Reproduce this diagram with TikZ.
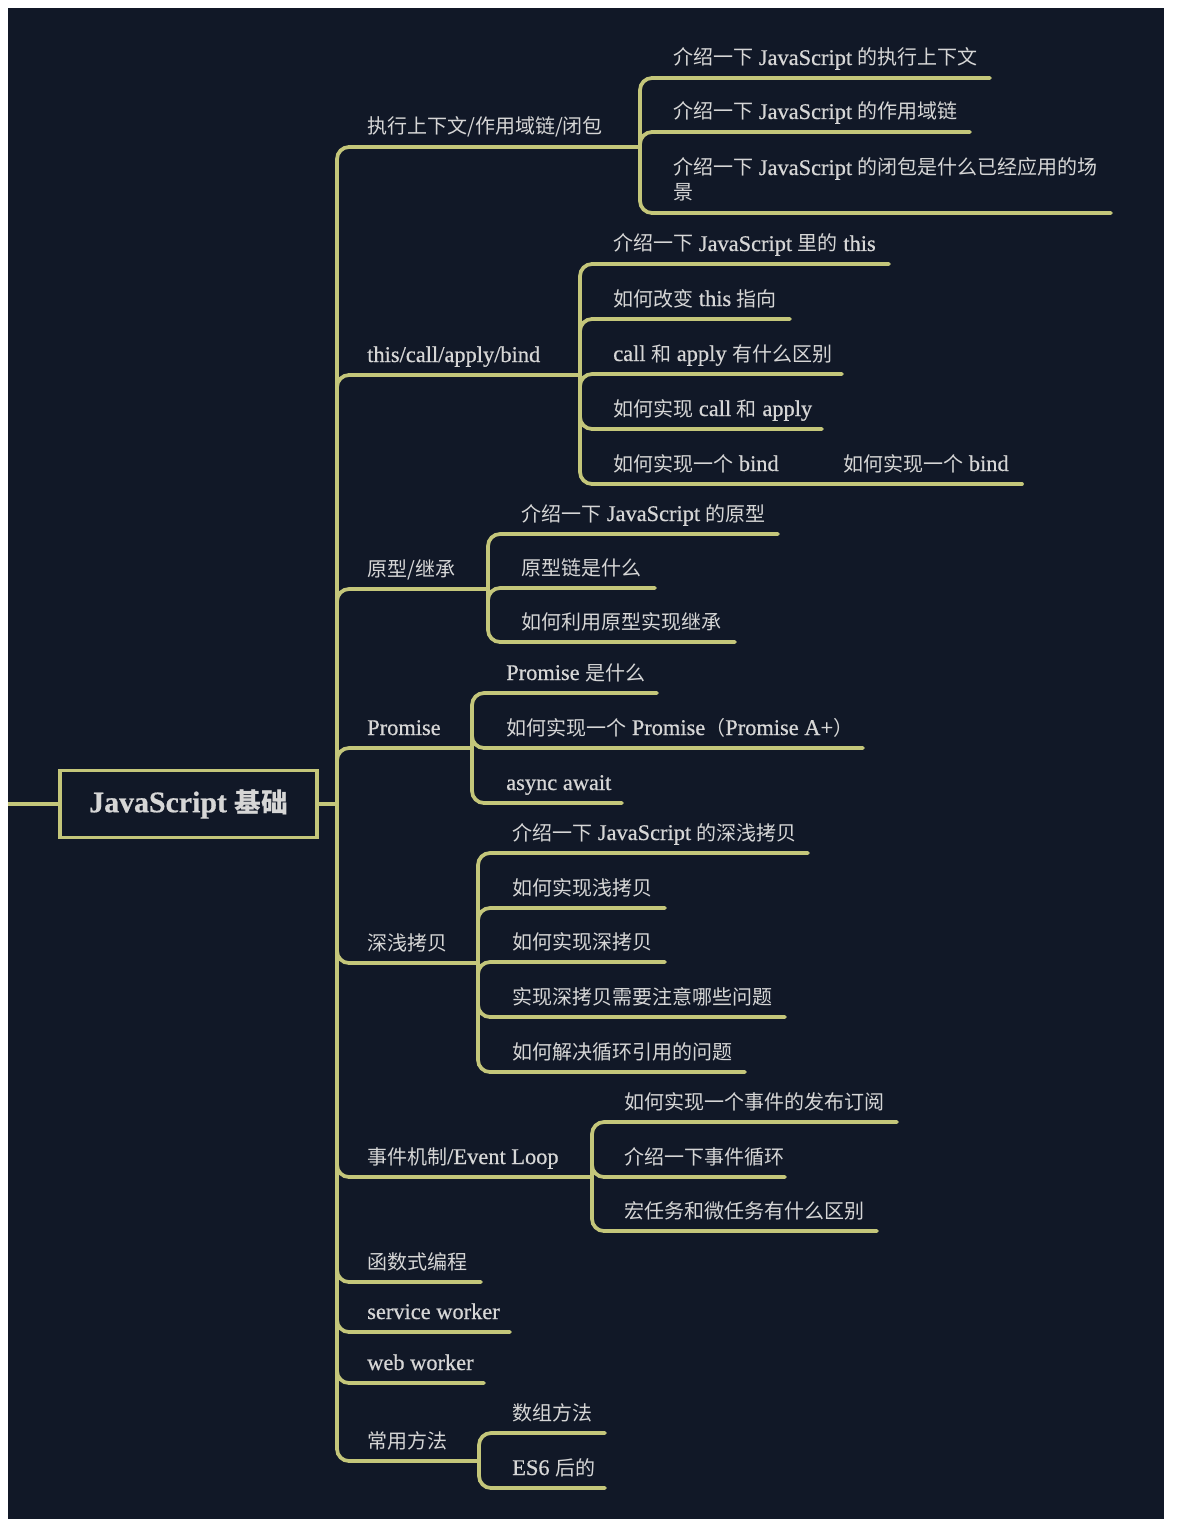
\documentclass[tikz,border=0pt]{standalone}
\usepackage{fontspec}
\setmainfont{Liberation Serif}[Scale=1.12,FakeBold=0.6]
\newfontfamily\cjk{Noto Sans CJK SC}
\newcommand\zh[1]{{\cjk #1}}
\definecolor{bgc}{RGB}{17,24,39}
\definecolor{linec}{RGB}{196,198,122}
\definecolor{txtc}{RGB}{214,214,214}
\begin{document}
\begin{tikzpicture}[x=0.75pt,y=-0.75pt,
  conn/.style={draw=linec,line width=2.8pt,rounded corners=9pt,line cap=round},
  txt/.style={anchor=base west,inner sep=0pt,text=txtc,font=\fontsize{15}{18.75}\selectfont},
  rootbox/.style={draw=linec,line width=2.8pt,minimum width=192.75pt,minimum height=50.25pt,text=txtc,font=\fontsize{20}{24}\selectfont\bfseries}]
\useasboundingbox (0,0) rectangle (1182,1530);
\fill[white] (0,0) rectangle (1182,1530);
\fill[bgc] (8,8) rectangle (1164,1519);
% root
\node[rootbox] (root) at (188.5,804) {JavaScript \zh{\bfseries 基础}};
\coordinate (L) at (8,804);
\coordinate (T) at (337,804);
\draw[conn,line cap=butt] (L) -- (root.west);
\draw[conn] (root.east) -- (T);
% level 1
\node[txt] (b1) at (367,134) {\zh{执行上下文/作用域链/闭包}};
\node[txt] (b2) at (367,362) {this/call/apply/bind};
\node[txt] (b3) at (367,576) {\zh{原型/继承}};
\node[txt] (b4) at (367,735) {Promise};
\node[txt] (b5) at (367,950) {\zh{深浅拷贝}};
\node[txt] (b6) at (367,1164) {\zh{事件机制}/Event Loop};
\node[txt] (b7) at (367,1269) {\zh{函数式编程}};
\node[txt] (b8) at (367,1319) {service worker};
\node[txt] (b9) at (367,1370) {web worker};
\node[txt] (b10) at (367,1448) {\zh{常用方法}};
\coordinate (b1u) at (640,147);
\coordinate (b2u) at (580,375);
\coordinate (b3u) at (488,589);
\coordinate (b4u) at (472,748);
\coordinate (b5u) at (478,963);
\coordinate (b6u) at (592,1177);
\coordinate (b7u) at (481,1282);
\coordinate (b8u) at (510,1332);
\coordinate (b9u) at (484,1383);
\coordinate (b10u) at (479,1461);
\foreach \n in {b1u,b2u,b3u,b4u,b5u,b6u,b7u,b8u,b9u,b10u}{\draw[conn] (T) |- (\n);}
% group 1
\node[txt] (a1) at (673,65) {\zh{介绍一下} JavaScript \zh{的执行上下文}};
\node[txt] (a2) at (673,119) {\zh{介绍一下} JavaScript \zh{的作用域链}};
\node[txt,align=left] (a3) at (673,200) {\zh{介绍一下} JavaScript \zh{的闭包是什么已经应用的场}\\\zh{景}};
\coordinate (a1u) at (990,78);
\coordinate (a2u) at (970,132);
\coordinate (a3u) at (1111,213);
\foreach \n in {a1u,a2u,a3u}{\draw[conn] (b1u) |- (\n);}
% group 2
\node[txt] (c1) at (613,251) {\zh{介绍一下} JavaScript \zh{里的} this};
\node[txt] (c2) at (613,306) {\zh{如何改变} this \zh{指向}};
\node[txt] (c3) at (613,361) {call \zh{和} apply \zh{有什么区别}};
\node[txt] (c4) at (613,416) {\zh{如何实现} call \zh{和} apply};
\node[txt] (c5) at (613,471) {\zh{如何实现一个} bind};
\node[txt] (c6) at (843,471) {\zh{如何实现一个} bind};
\coordinate (c1u) at (889,264);
\coordinate (c2u) at (790,319);
\coordinate (c3u) at (842,374);
\coordinate (c4u) at (822,429);
\coordinate (c5u) at (810,484);
\coordinate (c6u) at (1022,484);
\foreach \n in {c1u,c2u,c3u,c4u,c5u}{\draw[conn] (b2u) |- (\n);}
\draw[conn] (c5u) -- (c6u);
% group 3
\node[txt] (d1) at (521,521) {\zh{介绍一下} JavaScript \zh{的原型}};
\node[txt] (d2) at (521,575) {\zh{原型链是什么}};
\node[txt] (d3) at (521,629) {\zh{如何利用原型实现继承}};
\coordinate (d1u) at (778,534);
\coordinate (d2u) at (655,588);
\coordinate (d3u) at (735,642);
\foreach \n in {d1u,d2u,d3u}{\draw[conn] (b3u) |- (\n);}
% group 4
\node[txt] (e1) at (506,680) {Promise \zh{是什么}};
\node[txt] (e2) at (506,735) {\zh{如何实现一个} Promise\zh{（}Promise A+\zh{）}};
\node[txt] (e3) at (506,790) {async await};
\coordinate (e1u) at (657,693);
\coordinate (e2u) at (863,748);
\coordinate (e3u) at (622,803);
\foreach \n in {e1u,e2u,e3u}{\draw[conn] (b4u) |- (\n);}
% group 5
\node[txt] (f1) at (512,840) {\zh{介绍一下} JavaScript \zh{的深浅拷贝}};
\node[txt] (f2) at (512,895) {\zh{如何实现浅拷贝}};
\node[txt] (f3) at (512,949) {\zh{如何实现深拷贝}};
\node[txt] (f4) at (512,1004) {\zh{实现深拷贝需要注意哪些问题}};
\node[txt] (f5) at (512,1059) {\zh{如何解决循环引用的问题}};
\coordinate (f1u) at (808,853);
\coordinate (f2u) at (665,908);
\coordinate (f3u) at (665,962);
\coordinate (f4u) at (785,1017);
\coordinate (f5u) at (745,1072);
\foreach \n in {f1u,f2u,f3u,f4u,f5u}{\draw[conn] (b5u) |- (\n);}
% group 6
\node[txt] (g1) at (624,1109) {\zh{如何实现一个事件的发布订阅}};
\node[txt] (g2) at (624,1164) {\zh{介绍一下事件循环}};
\node[txt] (g3) at (624,1218) {\zh{宏任务和微任务有什么区别}};
\coordinate (g1u) at (897,1122);
\coordinate (g2u) at (785,1177);
\coordinate (g3u) at (877,1231);
\foreach \n in {g1u,g2u,g3u}{\draw[conn] (b6u) |- (\n);}
% group 10
\node[txt] (h1) at (512,1420) {\zh{数组方法}};
\node[txt] (h2) at (512,1475) {ES6 \zh{后的}};
\coordinate (h1u) at (605,1433);
\coordinate (h2u) at (605,1488);
\foreach \n in {h1u,h2u}{\draw[conn] (b10u) |- (\n);}
\end{tikzpicture}
\end{document}
